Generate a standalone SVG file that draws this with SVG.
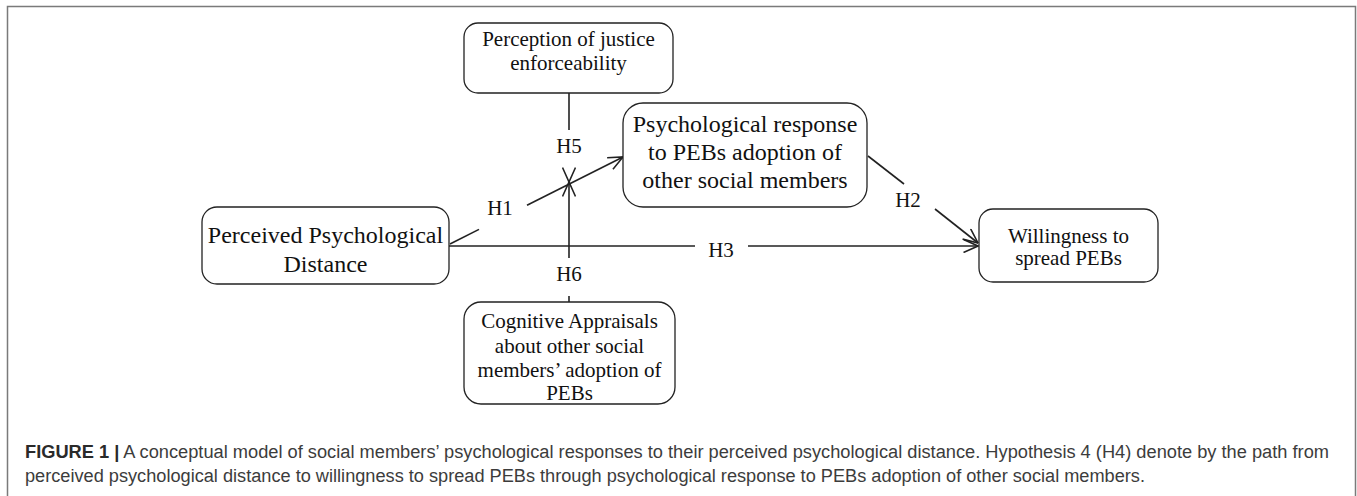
<svg xmlns="http://www.w3.org/2000/svg" width="1357" height="496" viewBox="0 0 1357 496">
<style>
.bg{fill:#fff}
.frame{fill:none;stroke:#7a7a7a;stroke-width:1.5}
.box{fill:#fff;stroke:#222;stroke-width:1.3}
.t{font-family:"Liberation Serif","Times New Roman",serif;fill:#111;text-anchor:middle}
.lbl{font-family:"Liberation Serif","Times New Roman",serif;fill:#111;font-size:21px;text-anchor:middle}
.ln{fill:none;stroke:#222;stroke-width:1.6}
.cap{font-family:"Liberation Sans",Arial,sans-serif;font-size:18px;fill:#3c3c3c}
.capb{font-weight:bold;fill:#2a2a2a}
</style>
<defs>
<marker id="arr" viewBox="0 0 16 14" refX="15.5" refY="7" markerWidth="16" markerHeight="14" markerUnits="userSpaceOnUse" orient="auto">
<path d="M1,0.5 L15.5,7 L1,13.5" fill="none" stroke="#222" stroke-width="1.6"/>
</marker>
</defs>
<rect class="bg" x="0" y="0" width="1357" height="496"/>
<path class="frame" d="M7.5,500 L7.5,6.5 L1355.5,6.5 L1355.5,500"/>

<g id="connectors">
<line class="ln" x1="569" y1="93" x2="569" y2="130"/>
<path d="M569,170 L569,182" stroke="none" fill="none" marker-end="url(#arr)"/>
<line class="ln" x1="450" y1="244" x2="479" y2="229.4"/>
<line class="ln" x1="527" y1="205.3" x2="623" y2="157" marker-end="url(#arr)"/>
<line class="ln" x1="569" y1="302" x2="569" y2="296"/>
<line class="ln" x1="569" y1="258" x2="569" y2="182" marker-end="url(#arr)"/>
<line class="ln" x1="449" y1="246" x2="695" y2="246"/>
<line class="ln" x1="748" y1="246" x2="978" y2="246" marker-end="url(#arr)"/>
<line class="ln" x1="868" y1="156" x2="904" y2="184"/>
<line class="ln" x1="935" y1="209" x2="978" y2="243" marker-end="url(#arr)"/>
<text class="lbl" x="569" y="153">H5</text>
<text class="lbl" x="500" y="215">H1</text>
<text class="lbl" x="721" y="257">H3</text>
<text class="lbl" x="569" y="281">H6</text>
<text class="lbl" x="908" y="207">H2</text>
</g>

<g id="node-justice">
<rect class="box" x="464" y="23" width="209" height="70" rx="14"/>
<text class="t" font-size="21" x="568.5" y="46">Perception of justice</text>
<text class="t" font-size="21" x="568.5" y="70">enforceability</text>
</g>

<g id="node-response">
<rect class="box" x="623" y="103" width="244" height="104" rx="20"/>
<text class="t" font-size="24" x="745" y="132">Psychological response</text>
<text class="t" font-size="24" x="745" y="160">to PEBs adoption of</text>
<text class="t" font-size="24" x="745" y="188">other social members</text>
</g>

<g id="node-distance">
<rect class="box" x="202" y="207" width="247" height="77" rx="15"/>
<text class="t" font-size="24" x="325.5" y="243">Perceived Psychological</text>
<text class="t" font-size="24" x="325.5" y="272">Distance</text>
</g>

<g id="node-willingness">
<rect class="box" x="979" y="209" width="179" height="73" rx="14"/>
<text class="t" font-size="21" x="1068.5" y="243">Willingness to</text>
<text class="t" font-size="21" x="1068.5" y="265">spread PEBs</text>
</g>

<g id="node-cognitive">
<rect class="box" x="464" y="302" width="211" height="102" rx="17"/>
<text class="t" font-size="21" x="569.5" y="328">Cognitive Appraisals</text>
<text class="t" font-size="21" x="569.5" y="353">about other social</text>
<text class="t" font-size="21" x="569.5" y="377">members’ adoption of</text>
<text class="t" font-size="21" x="569.5" y="400">PEBs</text>
</g>

<g id="caption">
<text class="cap" x="25" y="458" textLength="1304" lengthAdjust="spacingAndGlyphs"><tspan class="capb">FIGURE 1 |</tspan> A conceptual model of social members’ psychological responses to their perceived psychological distance. Hypothesis 4 (H4) denote by the path from</text>
<text class="cap" x="25" y="482" textLength="1120" lengthAdjust="spacingAndGlyphs">perceived psychological distance to willingness to spread PEBs through psychological response to PEBs adoption of other social members.</text>
</g>
</svg>
